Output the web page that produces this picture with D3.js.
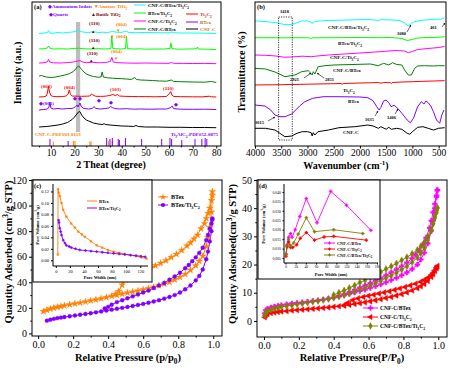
<!DOCTYPE html>
<html><head><meta charset="utf-8">
<script src="https://cdn.jsdelivr.net/npm/d3@7"></script>
<style>body{margin:0;background:#fff}svg{display:block}text{font-family:"Liberation Serif","Times New Roman",serif}</style>
</head><body><svg id="c" width="450" height="370"></svg>
<script>
// ---------- Panel (a) XRD: [2theta, intensity a.u.] ----------
const xrdTicks = [10,20,30,40,50,60,70,80];
const xrdCNFC = [[5,19],[8,19.5],[10,20],[13,21],[15,22],[17,23.5],[18,25],[19,26.5],[20,29],[21,32],[21.7,34],[22.2,34.5],[22.6,33],[23,31],[24,28],[25,26],[26,25],[28,23],[30,22],[32,21.5],[32.5,22.5],[33,21.5],[35,21],[38,20.4],[40,20],[43,19.8],[45,19.5],[46,20.5],[47,19.5],[50,19],[55,19],[60,18.7],[65,18.7],[70,18.5],[75,18.5],[80,18.3]];
const xrdBTex = [[5,36],[7,36.5],[8.5,37],[9.2,39],[9.6,44],[10,38],[11,37],[13,37.5],[15,37],[17,37.5],[18.5,37.5],[19.5,38],[20.5,39.5],[21,41],[21.5,39],[22.3,43],[23,39],[24,37.5],[26,37],[27.5,37.5],[28.3,39.5],[29,37.5],[31,37],[33,37.5],[34.5,38],[35.2,39.5],[36,38.5],[37,37.5],[39,37],[42,37.3],[45,36.8],[48,37],[52,36.8],[56,37],[59,37],[60.8,38.5],[61.3,40],[62,37.3],[65,36.8],[70,36.7],[75,36.8],[80,36.5]];
const xrdTi3C2 = [[5,49],[7,49.3],[8,50],[8.5,53],[9,60],[9.4,54],[10,50.5],[11,49.5],[13,49.3],[15,49.5],[16.5,50],[17.3,52],[17.8,56],[18.3,51.5],[19,50],[21,49.8],[23,49.7],[25,49.8],[26.5,50],[27.2,52],[27.8,51],[29,49.7],[31,49.6],[33,49.8],[35,50.5],[36.2,51.5],[37.2,50.5],[38.2,51.5],[39,50],[41,49.7],[44,49.5],[47,49.4],[50,49.4],[54,49.2],[57,49.4],[59,49.6],[60.3,53],[60.7,54.5],[61.2,51],[62,49.5],[65,49.3],[70,49.2],[74,49.1],[77,49.8],[78,49.2],[80,49]];
const xrdCNFCBTex = [[5,70],[6,70.5],[8,69],[10,68.5],[12,69],[14,70],[16,71],[18,72.5],[19.5,74.5],[20.5,77],[21.3,79.5],[21.8,80],[22.3,78.5],[23,76.5],[24,74],[25,72],[26.5,70.5],[28,69.5],[30,68.8],[31.2,69],[31.7,74],[32.2,69],[34,68.2],[36,67.8],[38,67.5],[40,67.3],[42,67],[44,66.5],[45.5,68.5],[46.2,66.5],[48,66],[50,65.8],[53,65.5],[56,65],[59,64.8],[61,66],[62,64.5],[65,64.3],[70,64],[75,63.8],[78,64.5],[80,63.5]];
const xrdCNFCTi3C2 = [[5,83],[7,83.3],[8.5,84],[9,86.5],[9.5,84],[11,83.2],[14,83],[17,83.4],[19,83.8],[20.5,84.5],[21.5,85],[22.3,85.3],[23.5,84],[25,83.3],[27.5,83.8],[30,83.2],[33,83.4],[35.2,84.5],[35.8,88.5],[36.4,84],[38,83.3],[42,83],[46,82.8],[50,83],[55,82.8],[60,82.7],[61,83.5],[62,82.7],[66,82.6],[70,82.5],[75,82.6],[80,82.3]];
const xrdBTexTi3C2 = [[5,97],[7,97.3],[8.5,98],[9,100],[9.5,97.8],[11,97],[14,97.2],[17,97],[20,97.5],[22,97.8],[24,97.2],[27,97],[30,97.3],[33,97],[35.4,97.5],[35.8,110],[36.2,97.4],[38,97.2],[40,97],[41.6,97.5],[42,110],[42.4,97.3],[45,97],[48,97.2],[50,96.8],[55,97],[58,97],[60.4,97.5],[60.8,103],[61.2,97.3],[64,96.8],[68,97],[71.6,97.2],[72,99],[72.4,97],[76,96.8],[80,96.5]];
const xrdAll = [[5,112.5],[7,113],[8.5,113.5],[9,115.5],[9.6,113],[11,112.8],[13,113.5],[15,113],[17,113.5],[19,114],[20.5,114.5],[21.5,115.5],[22.5,114.5],[24,113.8],[26,113.5],[28,114.5],[30,113.5],[32,113.8],[34,113.5],[36,114.5],[38,113.8],[40,113.7],[42,114.8],[43,113.5],[46,113.3],[50,113.5],[55,113.3],[60,113.2],[61,114],[62,113.2],[65,113],[70,113],[75,112.8],[80,112.5]];
const pdfCNFC = [[11,4.5],[19.5,5],[20.2,5],[26.5,4.5],[27,4.5],[34.3,5],[36,5]];
const pdfTi3AlC2 = [[9.6,7],[17.3,5],[33.6,8],[35,7],[36,8],[38.5,7],[39,6],[41.6,8],[48.4,7],[56.9,7],[60.4,8],[61.1,7],[65.4,6],[71,7],[73.9,7],[75.3,8],[76,7]];

// ---------- Panel (b) FTIR: [wavenumber, transmittance] ----------
const ftirTicks = [4000,3500,3000,2500,2000,1500,1000,500];
const ftirAll = [[4000,125],[3810,124.5],[3620,123.5],[3525,122.5],[3430,121.3],[3300,121.5],[3239,122.5],[3112,125],[3000,125],[2930,124],[2910,122.5],[2890,124],[2872,123.5],[2850,124.5],[2669,125.5],[2352,125.8],[2035,126.3],[1800,126.5],[1654,125.5],[1600,126.3],[1401,126],[1250,125.5],[1147,123],[1080,120],[1020,122.5],[957,124.5],[767,126],[600,126.5],[513,127],[461,126.3],[430,127.5],[386,128]];
const ftirBTexTi3C2 = [[4000,108.3],[3500,108.2],[3000,108.3],[2920,107.6],[2900,108.2],[2500,108.3],[2000,108.5],[1600,108.3],[1400,108.5],[1200,107.5],[1100,105.5],[1000,106.5],[900,108],[700,108.5],[500,108.7],[386,109.3]];
const ftirCNFCTi3C2 = [[4000,91],[3800,90.7],[3600,90],[3450,88.8],[3300,89],[3100,89.8],[2920,89.3],[2850,89.8],[2600,91],[2300,92],[2000,93],[1700,94],[1500,94.8],[1300,95.5],[1150,95],[1080,93.3],[1000,94.5],[900,96.5],[700,97.5],[500,98.5],[386,99.5]];
const ftirCNFCBTex = [[4000,77.7],[3800,77],[3620,74],[3430,69.3],[3239,71],[3112,74.3],[2985,75.3],[2935,72.7],[2910,71],[2890,74.3],[2860,72],[2796,79.3],[2669,80.3],[2500,81],[2000,81.7],[1800,82],[1650,80.3],[1550,82.7],[1450,81],[1380,83.3],[1300,81.5],[1200,81],[1150,76],[1080,71],[1020,71],[957,77.7],[900,80],[767,80.3],[600,80],[500,80.3],[386,80.3]];
const ftirTi3C2 = [[4000,61],[3500,61.3],[3000,61.8],[2500,62.3],[2360,62.5],[2340,61.5],[2320,62.5],[2000,63],[1800,63.2],[1650,63.5],[1600,62.8],[1550,63.5],[1420,63.3],[1400,62.3],[1380,63.5],[1200,64],[1000,64.3],[800,64.7],[600,65],[386,65.3]];
const ftirBTex = [[4000,41],[3810,40],[3700,36],[3620,31],[3525,29.3],[3430,29.3],[3300,32],[3150,40],[3050,44.3],[2900,47.7],[2700,49.3],[2400,49.3],[2000,49],[1850,48.3],[1750,45.3],[1680,39.3],[1635,36],[1600,38.7],[1550,45],[1500,46],[1450,43.3],[1406,39.3],[1350,40.7],[1300,38.7],[1200,32.7],[1100,26],[1040,23.3],[980,27.7],[900,39.3],[830,44.3],[780,42],[740,45],[700,43.3],[650,40],[600,34.3],[540,26],[480,22.7],[440,31],[400,36]];
const ftirCNFC = [[4000,17.7],[3800,17.7],[3620,16],[3525,12.7],[3430,9.3],[3300,10],[3200,12.7],[3100,14.3],[3000,14.3],[2930,13.3],[2910,10],[2890,13.3],[2860,11],[2800,14.3],[2600,16],[2400,18.3],[2100,19.3],[1850,21],[1750,20],[1650,17.7],[1600,19.3],[1500,16.7],[1450,18.7],[1400,16.7],[1300,17.7],[1200,16.7],[1100,12.7],[1050,11.7],[1000,14.3],[900,18.7],[800,19.3],[700,17.7],[600,16],[500,17.7],[386,18.3]];

// ---------- Panel (c) BET: [P/P0, quantity] ----------
const pTicks = [0.0,0.2,0.4,0.6,0.8,1.0];
const qTicksC = [0,20,40,60,80,100,120];
const cBTexAds = [[0.03,17.2],[0.05,18.3],[0.07,19.2],[0.09,20],[0.11,20.6],[0.13,21.2],[0.15,21.8],[0.18,22.6],[0.21,23.3],[0.24,24],[0.27,24.8],[0.30,25.6],[0.33,26.4],[0.36,27.3],[0.39,28.2],[0.42,29.2],[0.45,30.2],[0.48,31],[0.51,31.8],[0.54,32.6],[0.57,33.4],[0.60,34.3],[0.63,35.2],[0.66,36.3],[0.69,37.5],[0.72,38.8],[0.75,40.2],[0.78,42],[0.81,44],[0.84,46.3],[0.87,49.5],[0.90,53],[0.92,56.5],[0.94,60.5],[0.96,68],[0.97,75],[0.98,83],[0.99,95],[0.995,108]];
const cBTexDes = [[0.995,111],[0.99,104],[0.98,98],[0.97,94],[0.96,90],[0.95,86],[0.93,82],[0.91,77],[0.89,74],[0.87,71],[0.85,68.5],[0.82,65],[0.79,62],[0.76,59.5],[0.73,57],[0.70,55],[0.67,53],[0.64,51],[0.61,49],[0.58,47.5],[0.55,46],[0.52,44.5],[0.50,42],[0.48,38],[0.46,33],[0.44,30.5]];
const cMixAds = [[0.05,10],[0.07,10.8],[0.09,11.4],[0.11,12],[0.13,12.4],[0.15,12.8],[0.18,13.4],[0.21,14],[0.24,14.6],[0.27,15.2],[0.30,15.8],[0.33,16.5],[0.36,17.2],[0.39,17.9],[0.42,18.6],[0.45,19.3],[0.48,20],[0.51,20.7],[0.54,21.5],[0.57,22.3],[0.60,23.1],[0.63,24],[0.66,25],[0.69,26],[0.72,27.2],[0.75,28.5],[0.78,30],[0.81,32],[0.84,34.5],[0.87,37.5],[0.90,41.5],[0.92,45],[0.94,50],[0.96,58],[0.97,64],[0.98,72],[0.99,80],[0.995,89]];
const cMixDes = [[0.995,90],[0.99,86],[0.98,82],[0.97,77],[0.96,73],[0.94,67],[0.92,63],[0.90,59.5],[0.88,56.5],[0.86,53.5],[0.84,51],[0.81,47.5],[0.78,44.5],[0.75,42],[0.72,39.5],[0.69,37.5],[0.66,35.5],[0.63,33.5],[0.60,32],[0.57,30.5],[0.54,29],[0.51,27.5],[0.48,26],[0.45,24.5],[0.42,22.5],[0.40,20.8],[0.38,19.5]];
// inset (c): [pore width nm, pore volume]
const ciTicksX = [0,20,40,60,80,100,120];
const ciTicksY = [0.00,0.02,0.04,0.06,0.08,0.10,0.12];
const ciBTex = [[2.8,0.01],[3.3,0.124],[4,0.118],[5.7,0.112],[8,0.1],[10.5,0.088],[15,0.076],[22,0.064],[27,0.057],[32,0.05],[37,0.045],[41,0.041],[50,0.033],[58,0.026],[66,0.022],[74,0.018],[82,0.015],[90,0.013],[98,0.011],[106,0.009],[114,0.007],[122,0.005],[129,0.003]];
const ciMix = [[4,0.07],[4.5,0.066],[5.7,0.056],[7,0.05],[8.1,0.044],[10.5,0.035],[13,0.03],[15,0.026],[19,0.024],[22,0.022],[28,0.02],[34,0.018],[42,0.017],[50,0.016],[58,0.015],[66,0.014],[74,0.013],[82,0.012],[90,0.011],[98,0.01],[106,0.009],[114,0.008],[121,0.007],[127,0.006]];

// ---------- Panel (d) BET ----------
const qTicksD = [0,10,20,30,40,50];
const dBTexAds = [[0.005,2.7],[0.01,3.8],[0.02,4.3],[0.04,4.8],[0.06,5.1],[0.08,5.4],[0.10,5.6],[0.13,5.9],[0.16,6.2],[0.19,6.4],[0.22,6.6],[0.25,6.8],[0.28,7.1],[0.31,7.3],[0.34,7.6],[0.37,7.9],[0.40,8.3],[0.43,8.7],[0.46,9.1],[0.49,9.6],[0.52,10.1],[0.55,10.6],[0.58,11.1],[0.61,11.7],[0.64,12.3],[0.67,13],[0.70,13.7],[0.73,14.5],[0.76,15.3],[0.79,16.2],[0.82,17.2],[0.85,18.4],[0.88,20],[0.90,21.8],[0.92,24.2],[0.94,27.5],[0.96,32],[0.97,35.5],[0.98,40],[0.99,44.5],[0.995,46.3]];
const dBTexDes = [[0.995,46.5],[0.99,44],[0.98,41.5],[0.97,38.5],[0.96,35.5],[0.95,33],[0.93,29.5],[0.91,27],[0.89,25],[0.87,23.5],[0.85,22.2],[0.82,20.7],[0.79,19.4],[0.76,18.3],[0.73,17.2],[0.70,16.2],[0.67,15.2],[0.64,14.3],[0.61,13.4],[0.58,12.6],[0.55,11.8],[0.52,11],[0.49,10.2],[0.46,9.5],[0.43,8.9]];
const dTiAds = [[0.005,1.3],[0.01,2],[0.02,2.4],[0.04,2.8],[0.06,3],[0.08,3.2],[0.10,3.35],[0.13,3.5],[0.16,3.7],[0.19,3.85],[0.22,4],[0.25,4.15],[0.28,4.3],[0.31,4.45],[0.34,4.6],[0.37,4.8],[0.40,5],[0.43,5.2],[0.46,5.45],[0.49,5.7],[0.52,6],[0.55,6.3],[0.58,6.6],[0.61,6.95],[0.64,7.3],[0.67,7.7],[0.70,8.1],[0.73,8.5],[0.76,9],[0.79,9.5],[0.82,10.1],[0.85,10.8],[0.88,11.6],[0.90,12.3],[0.92,13.1],[0.94,14.2],[0.96,15.6],[0.97,16.6],[0.98,17.8],[0.99,18.8],[0.995,19.3]];
const dTiDes = [[0.995,19.5],[0.99,18.8],[0.98,17.8],[0.97,17],[0.96,16.3],[0.94,15.3],[0.92,14.5],[0.90,13.9],[0.87,13.2],[0.84,12.6],[0.81,12],[0.78,11.5],[0.75,11],[0.72,10.5],[0.69,10.1],[0.66,9.7],[0.63,9.3],[0.60,8.9],[0.57,8.5],[0.54,8],[0.51,7.4],[0.48,6.4],[0.46,5.6]];
const dMixAds = [[0.005,2],[0.01,2.9],[0.02,3.5],[0.04,4],[0.06,4.4],[0.08,4.7],[0.10,5],[0.13,5.3],[0.16,5.6],[0.19,5.9],[0.22,6.2],[0.25,6.5],[0.28,6.8],[0.31,7.1],[0.34,7.4],[0.37,7.8],[0.40,8.2],[0.43,8.7],[0.46,9.2],[0.49,9.8],[0.52,10.4],[0.55,11.1],[0.58,11.8],[0.61,12.6],[0.64,13.4],[0.67,14.3],[0.70,15.2],[0.73,16.1],[0.76,17.1],[0.79,18.2],[0.82,19.4],[0.85,20.8],[0.88,22.5],[0.90,24],[0.92,26],[0.94,28.7],[0.96,32],[0.97,34.5],[0.98,37],[0.99,39.2],[0.995,40]];
const dMixDes = [[0.995,40.2],[0.99,38.5],[0.98,36.5],[0.97,34.5],[0.96,32.5],[0.94,30],[0.92,28],[0.90,26.5],[0.88,25.2],[0.85,23.8],[0.82,22.6],[0.79,21.5],[0.76,20.4],[0.73,19.4],[0.70,18.4],[0.67,17.4],[0.64,16.4],[0.61,15.4],[0.58,14.5],[0.55,13.6],[0.52,12.6],[0.49,11.7],[0.46,10.8],[0.43,10],[0.40,9.2]];
// inset (d)
const diTicksX = [0,20,40,60,80,100,120,140,160,180];
const diTicksY = [0.005,0.010,0.015,0.020,0.025,0.030,0.035,0.040];
const diBTex = [[1,0.007],[3,0.012],[6,0.016],[10,0.018],[13,0.016],[19,0.02],[28,0.027],[41,0.0365],[62,0.0237],[89,0.0403],[120,0.033],[168,0.0197]];
const diTi = [[1,0.006],[3,0.011],[6,0.0137],[10,0.0106],[14,0.0106],[22,0.012],[29,0.0155],[41,0.0185],[57,0.0145],[76,0.0162],[95,0.0165],[159,0.0145]];
const diMix = [[1,0.007],[3,0.0115],[6,0.015],[10,0.0115],[16,0.013],[25,0.0177],[41,0.0264],[57,0.019],[95,0.02],[152,0.018]];

// ================= drawing =================
const svg = d3.select('#c');
svg.append('rect').attr('width',450).attr('height',370).attr('fill','#fff');
const SERIF = '"Liberation Serif","Times New Roman",serif';
const SANS = '"Liberation Sans",Arial,sans-serif';

function rich(sel, str, fs){
  let i=0, segs=[], cur='';
  while(i<str.length){
    const c=str[i];
    if(c==='_'||c==='^'){
      if(cur){segs.push({t:cur,k:0});cur='';}
      let tok;
      if(str[i+1]==='{'){const j=str.indexOf('}',i);tok=str.slice(i+2,j);i=j+1;}
      else {tok=str[i+1];i+=2;}
      segs.push({t:tok,k:c==='_'?1:-1});
    } else {cur+=c;i++;}
  }
  if(cur)segs.push({t:cur,k:0});
  let shift=0;
  segs.forEach(s=>{
    const target = s.k===1? fs*0.3 : s.k===-1? -fs*0.4 : 0;
    sel.append('tspan').attr('dy', target-shift).attr('font-size', s.k? fs*0.7: fs).text(s.t);
    shift=target;
  });
  return sel;
}
function label(x,y,str,fs,opt={}){
  const t = svg.append('text').attr('x',x).attr('y',y).attr('font-size',fs)
    .attr('font-family',opt.family||SANS).attr('font-weight',opt.weight||'bold')
    .attr('fill',opt.color||'#000').attr('text-anchor',opt.anchor||'start');
  if(opt.rotate) t.attr('transform',`rotate(-90,${x},${y})`);
  rich(t,str,fs);
  return t;
}
function frame(x0,y0,x1,y1,fill){
  svg.append('rect').attr('x',x0).attr('y',y0).attr('width',x1-x0).attr('height',y1-y0)
    .attr('fill',fill||'none').attr('stroke','#000').attr('stroke-width',1);
}
function axisB(scale,y,ticks,fmt,fs,minor,size,pad){
  const g = svg.append('g').attr('transform',`translate(0,${y})`)
    .call(d3.axisBottom(scale).tickValues(ticks).tickFormat(fmt).tickSize(size||3).tickPadding(pad==null?2:pad));
  g.select('.domain').remove();
  g.selectAll('text').attr('font-size',fs).attr('font-family',SERIF).attr('fill','#000');
  if(minor){ svg.append('g').attr('transform',`translate(0,${y})`)
    .call(d3.axisBottom(scale).tickValues(minor).tickFormat('').tickSize((size||3)*0.55)).select('.domain').remove(); }
  return g;
}
function axisL(scale,x,ticks,fmt,fs,minor,size,pad){
  const g = svg.append('g').attr('transform',`translate(${x},0)`)
    .call(d3.axisLeft(scale).tickValues(ticks).tickFormat(fmt).tickSize(size||3).tickPadding(pad==null?2:pad));
  g.select('.domain').remove();
  g.selectAll('text').attr('font-size',fs).attr('font-family',SERIF).attr('fill','#000');
  if(minor){ svg.append('g').attr('transform',`translate(${x},0)`)
    .call(d3.axisLeft(scale).tickValues(minor).tickFormat('').tickSize((size||3)*0.55)).select('.domain').remove(); }
  return g;
}
function path(data,x,y,color,w){
  svg.append('path').datum(data).attr('fill','none').attr('stroke',color).attr('stroke-width',w||1)
    .attr('stroke-linejoin','round').attr('d',d3.line().x(d=>x(d[0])).y(d=>y(d[1])));
}
function markers(data,x,y,color,type,size,rot){
  svg.append('g').selectAll('path').data(data).join('path')
    .attr('d',d3.symbol().type(type).size(size))
    .attr('transform',d=>`translate(${x(d[0])},${y(d[1])})${rot?` rotate(${rot})`:''}`)
    .attr('fill',color).attr('stroke',color).attr('stroke-width',0.4);
}

// ---------- (a) ----------
const xA = d3.scaleLinear([2,82],[32,221]);
const yA = d3.scaleLinear([0,144],[146,2]);
svg.append('rect').attr('x',xA(20.6)).attr('y',yA(124)).attr('width',xA(22.4)-xA(20.6)).attr('height',yA(14)-yA(124)).attr('fill','#bdbdbd');
[[xrdCNFC,'#000'],[xrdBTex,'#8000ff'],[xrdTi3C2,'#ff0000'],[xrdCNFCBTex,'#008000'],[xrdCNFCTi3C2,'#ff00ff'],[xrdBTexTi3C2,'#00ff00'],[xrdAll,'#00ffff']]
  .forEach(([d,c])=>path(d,xA,yA,c,1));
svg.append('g').selectAll('line').data(pdfCNFC).join('line')
  .attr('x1',d=>xA(d[0])).attr('x2',d=>xA(d[0])).attr('y1',yA(0)).attr('y2',d=>yA(d[1]))
  .attr('stroke','#ff8000').attr('stroke-width',1);
svg.append('g').selectAll('line').data(pdfTi3AlC2).join('line')
  .attr('x1',d=>xA(d[0])).attr('x2',d=>xA(d[0])).attr('y1',yA(0)).attr('y2',d=>yA(d[1]))
  .attr('stroke','#8000ff').attr('stroke-width',1);
frame(32,2,221,146);
axisB(xA,146,xrdTicks,d3.format('d'),9.5,[5,15,25,35,45,55,65,75],2.5,1);
label(111,168,'2 Theat (degree)',10,{family:SERIF,anchor:'middle'});
label(21,73,'Intensity (a.u.)',10,{family:SERIF,anchor:'middle',rotate:true});
label(34,9,'(a)',6.5,{family:SERIF});
// phase legend
{
  const t = svg.append('text').attr('x',48).attr('y',8).attr('font-size',5).attr('font-family',SANS).attr('font-weight','bold');
  t.append('tspan').attr('fill','#8000ff').text('◆Ammonium Iodate ');
  const t2 = t.append('tspan').attr('fill','#ff8000'); t2.text('▼Anatase TiO');
  t.append('tspan').attr('fill','#ff8000').attr('font-size',3.5).attr('dy',1.5).text('2');
  label(49,15.5,'◆Quartz',5,{color:'#8000ff'});
  label(91,15.5,'▲Rutile TiO_2',5,{color:'#800000'});
}
// line legend
const legA = [['CNF-C/BTex/Ti_3C_2','#00ffff',134,5],['BTex/Ti_3C_2','#00ff00',134,13],['CNF-C/Ti_3C_2','#ff00ff',134,21],['CNF-C/BTex','#008000',134,29],
  ['Ti_3C_2','#ff0000',186,14,'#c03030'],['BTex','#8000ff',186,22,'#b07020'],['CNF-C','#000',186,29,'#c08020']];
legA.forEach(([n,c,x,y,tc])=>{
  svg.append('line').attr('x1',x).attr('x2',x+12).attr('y1',y).attr('y2',y).attr('stroke',c).attr('stroke-width',1);
  label(x+14,y+2,n,5,{color:tc||'#000'});
});
// peak labels
[[89,25,31],[89,42,47],[87,55,60]].forEach(([x,y,ty])=>{
  label(x,y,'(110)',5,{color:'#800000'});
  label(x+2,ty+1.5,'▲',4.5,{color:'#800000'});
});
[[116,26,116,31.5],[116,38,110,38],[111,53,114,59.5]].forEach(([x,y,tx,ty])=>{
  label(x,y,'(004)',5,{color:'#ff8000'});
  label(tx,ty,'▼',4.5,{color:'#ff8000'});
});
[['(002)',41,88],['(004)',64,89],['(103)',110,91],['(110)',163,90]].forEach(([s,x,y])=>label(x,y,s,5,{color:'#ff0000'}));
label(39,105,'◆(001)',5,{color:'#8000ff'});
[[73,100],[78,100],[97,102],[109,104],[174,106]].forEach(([x,y])=>label(x,y,'◆',4.5,{color:'#8000ff'}));
label(35,136,'CNF-C-PDF#03-0113',5,{color:'#ff8000'});
label(218,136,'Ti_3AlC_2-PDF#52-0875',5,{color:'#8000ff',anchor:'end'});

// ---------- (b) ----------
const xB = d3.scaleLinear([4000,360],[255,446]);
const yB = d3.scaleLinear([0,144],[146,2]);
[[ftirCNFC,'#000'],[ftirBTex,'#8000ff'],[ftirTi3C2,'#ff0000'],[ftirCNFCBTex,'#008000'],[ftirCNFCTi3C2,'#ff00ff'],[ftirBTexTi3C2,'#00ff00'],[ftirAll,'#00ffff']]
  .forEach(([d,c])=>path(d,xB,yB,c,1));
svg.append('rect').attr('x',xB(3550)).attr('y',yB(129)).attr('width',xB(3290)-xB(3550)).attr('height',yB(6)-yB(129))
  .attr('fill','none').attr('stroke','#000').attr('stroke-width',0.8).attr('stroke-dasharray','1.2,1.2');
frame(255,2,446,146);
axisB(xB,146,ftirTicks,d3.format('d'),9.5,null,2.5,1);
label(346,169,'Wavenumber (cm^{-1})',10,{family:SERIF,anchor:'middle'});
label(245,72,'Transmittance (%)',10,{family:SERIF,anchor:'middle',rotate:true});
label(257,9,'(b)',6.5,{family:SERIF});
[['CNF-C/BTex/Ti_3C_2',328,29],['BTex/Ti_3C_2',338,45],['CNF-C/Ti_3C_2',330,59],['CNF-C/BTex',333,72],['Ti_3C_2',343,92],['BTex',348,103],['CNF-C',343,134]]
  .forEach(([s,x,y])=>label(x,y,s,5));
[['3418',280,13],['1080',397,35],['461',430,29],['2921',290,81],['2851',325,81],['3615',255,124],['1635',365,121],['1406',387,119]]
  .forEach(([s,x,y])=>label(x,y,s,4.5));
const arrowsB = [[407,32,411,25],[442,27,445,23],[304,78,311,73],[324,78,317,73],[268,121,275,117],[375,116,378,111],[395,114,398,109]];
arrowsB.forEach(([x1,y1,x2,y2])=>{
  svg.append('line').attr('x1',x1).attr('y1',y1).attr('x2',x2).attr('y2',y2).attr('stroke','#000').attr('stroke-width',0.6);
  const a=Math.atan2(y2-y1,x2-x1), L=2;
  svg.append('path').attr('d',`M${x2},${y2}L${x2-L*Math.cos(a-0.5)},${y2-L*Math.sin(a-0.5)}L${x2-L*Math.cos(a+0.5)},${y2-L*Math.sin(a+0.5)}Z`).attr('fill','#000');
});

// ---------- (c) ----------
const xC = d3.scaleLinear([-0.035,1.05],[32,222]);
const yC = d3.scaleLinear([-2,120],[336,180]);
const starC = d3.symbolStar;
path(cBTexAds,xC,yC,'#ff8000',1); path(cBTexDes,xC,yC,'#ff8000',1);
path(cMixAds,xC,yC,'#8000ff',1); path(cMixDes,xC,yC,'#8000ff',1);
markers(cBTexAds,xC,yC,'#ff8000',starC,14); markers(cBTexDes,xC,yC,'#ff8000',starC,14);
markers(cMixAds,xC,yC,'#8000ff',d3.symbolCircle,12); markers(cMixDes,xC,yC,'#8000ff',d3.symbolCircle,12);
frame(32,180,222,336);
axisB(xC,336,pTicks,d3.format('.1f'),10,[0.1,0.3,0.5,0.7,0.9]);
axisL(yC,32,qTicksC,d3.format('d'),10,[10,30,50,70,90,110]);
label(128,361,'Relative Pressure (p/p_0)',10.5,{family:SERIF,anchor:'middle'});
label(12,252,'Quantity Adsorbed (cm^3/g STP)',10.5,{family:SERIF,anchor:'middle',rotate:true});
// legend
[['BTex','#ff8000',starC,197],['BTex/Ti_3C_2','#8000ff',d3.symbolCircle,205]].forEach(([n,c,sym,y])=>{
  svg.append('line').attr('x1',158).attr('x2',168).attr('y1',y).attr('y2',y).attr('stroke',c);
  svg.append('path').attr('d',d3.symbol().type(sym).size(14)).attr('transform',`translate(163,${y})`).attr('fill',c);
  label(171,y+2,n,6);
});
// inset (c)
frame(33,180,152,282,'#fff');
const xCi = d3.scaleLinear([-4,131],[53,148]);
const yCi = d3.scaleLinear([-0.01,0.133],[266,184]);
svg.append('line').attr('x1',53).attr('x2',53).attr('y1',184).attr('y2',266).attr('stroke','#000');
svg.append('line').attr('x1',53).attr('x2',148).attr('y1',266).attr('y2',266).attr('stroke','#000');
axisB(xCi,266,ciTicksX,d3.format('d'),4.5,null,2);
axisL(yCi,53,ciTicksY,d3.format('.2f'),4.5,null,2);
path(ciBTex,xCi,yCi,'#ff8000',0.9); path(ciMix,xCi,yCi,'#8000ff',0.9);
markers(ciBTex,xCi,yCi,'#ff8000',d3.symbolSquare,3); markers(ciMix,xCi,yCi,'#8000ff',d3.symbolCross,3);
label(100,279,'Pore Width (nm)',4.5,{anchor:'middle'});
label(39,225,'Pore Volume (cm^3/g)',4.5,{anchor:'middle',rotate:true});
[['BTex','#ff8000',201],['BTex/Ti_3C_2','#8000ff',208]].forEach(([n,c,y])=>{
  svg.append('line').attr('x1',87).attr('x2',97).attr('y1',y).attr('y2',y).attr('stroke',c);
  label(99,y+1.5,n,4.5);
});
label(34,188,'(c)',6.5,{family:SERIF});

// ---------- (d) ----------
const xD = d3.scaleLinear([-0.04,1.05],[257,447]);
const yD = d3.scaleLinear([-5.7,50],[337,180]);
const triL = d3.symbolTriangle;
path(dTiAds,xD,yD,'#ff0000',1); path(dTiDes,xD,yD,'#ff0000',1);
path(dMixAds,xD,yD,'#808000',1); path(dMixDes,xD,yD,'#808000',1);
path(dBTexAds,xD,yD,'#ff00ff',1); path(dBTexDes,xD,yD,'#ff00ff',1);
markers(dTiAds,xD,yD,'#ff0000',triL,14,-90); markers(dTiDes,xD,yD,'#ff0000',triL,14,-90);
markers(dBTexAds,xD,yD,'#ff00ff',d3.symbolCross,14); markers(dBTexDes,xD,yD,'#ff00ff',d3.symbolCross,14);
markers(dMixAds,xD,yD,'#808000',d3.symbolDiamond,14); markers(dMixDes,xD,yD,'#808000',d3.symbolDiamond,14);
frame(257,180,447,337);
axisB(xD,337,pTicks,d3.format('.1f'),10,[0.1,0.3,0.5,0.7,0.9]);
axisL(yD,257,qTicksD,d3.format('d'),10,[5,15,25,35,45]);
label(352,361,'Relative Pressure(P/P_0)',10.5,{family:SERIF,anchor:'middle'});
label(236,254,'Quantity Adsorbed(cm^3/g STP)',10.5,{family:SERIF,anchor:'middle',rotate:true});
[['CNF-C/BTex','#ff00ff',d3.symbolCross,0,308],['CNF-C/Ti_3C_2','#ff0000',triL,-90,317],['CNF-C/BTex/Ti_3C_2','#808000',d3.symbolDiamond,0,326]].forEach(([n,c,sym,r,y])=>{
  svg.append('line').attr('x1',363).attr('x2',378).attr('y1',y).attr('y2',y).attr('stroke',c);
  svg.append('path').attr('d',d3.symbol().type(sym).size(16)).attr('transform',`translate(370.5,${y}) rotate(${r})`).attr('fill',c);
  label(380,y+2,n,5.5);
});
// inset (d)
frame(258,180,380,279,'#fff');
const xDi = d3.scaleLinear([-3,182],[284,378]);
const yDi = d3.scaleLinear([0.0024,0.0442],[263,184]);
svg.append('line').attr('x1',284).attr('x2',284).attr('y1',184).attr('y2',263).attr('stroke','#000');
svg.append('line').attr('x1',284).attr('x2',378).attr('y1',263).attr('y2',263).attr('stroke','#000');
axisB(xDi,263,diTicksX,d3.format('d'),3.5,null,1.5,1);
axisL(yDi,284,diTicksY,d3.format('.3f'),3.8,null,1.5,1.5);
path(diBTex,xDi,yDi,'#ff00ff',0.9); path(diTi,xDi,yDi,'#ff0000',0.9); path(diMix,xDi,yDi,'#808000',0.9);
markers(diBTex,xDi,yDi,'#ff00ff',d3.symbolCross,5); markers(diTi,xDi,yDi,'#ff0000',d3.symbolCross,5); markers(diMix,xDi,yDi,'#808000',d3.symbolCross,5);
label(331,276,'Pore Width (nm)',4.5,{anchor:'middle'});
label(265,224,'Pore Volume (cm^3/g)',4.5,{anchor:'middle',rotate:true});
[['CNF-C/BTex','#ff00ff',243],['CNF-C/Ti_3C_2','#ff0000',249],['CNF-C/BTex/Ti_3C_2','#808000',255]].forEach(([n,c,y])=>{
  svg.append('line').attr('x1',324).attr('x2',335).attr('y1',y).attr('y2',y).attr('stroke',c);
  svg.append('path').attr('d',d3.symbol().type(d3.symbolCross).size(5)).attr('transform',`translate(329.5,${y})`).attr('fill',c);
  label(337,y+1.5,n,4.3);
});
label(259,188,'(d)',6.5,{family:SERIF});
</script></body></html>
